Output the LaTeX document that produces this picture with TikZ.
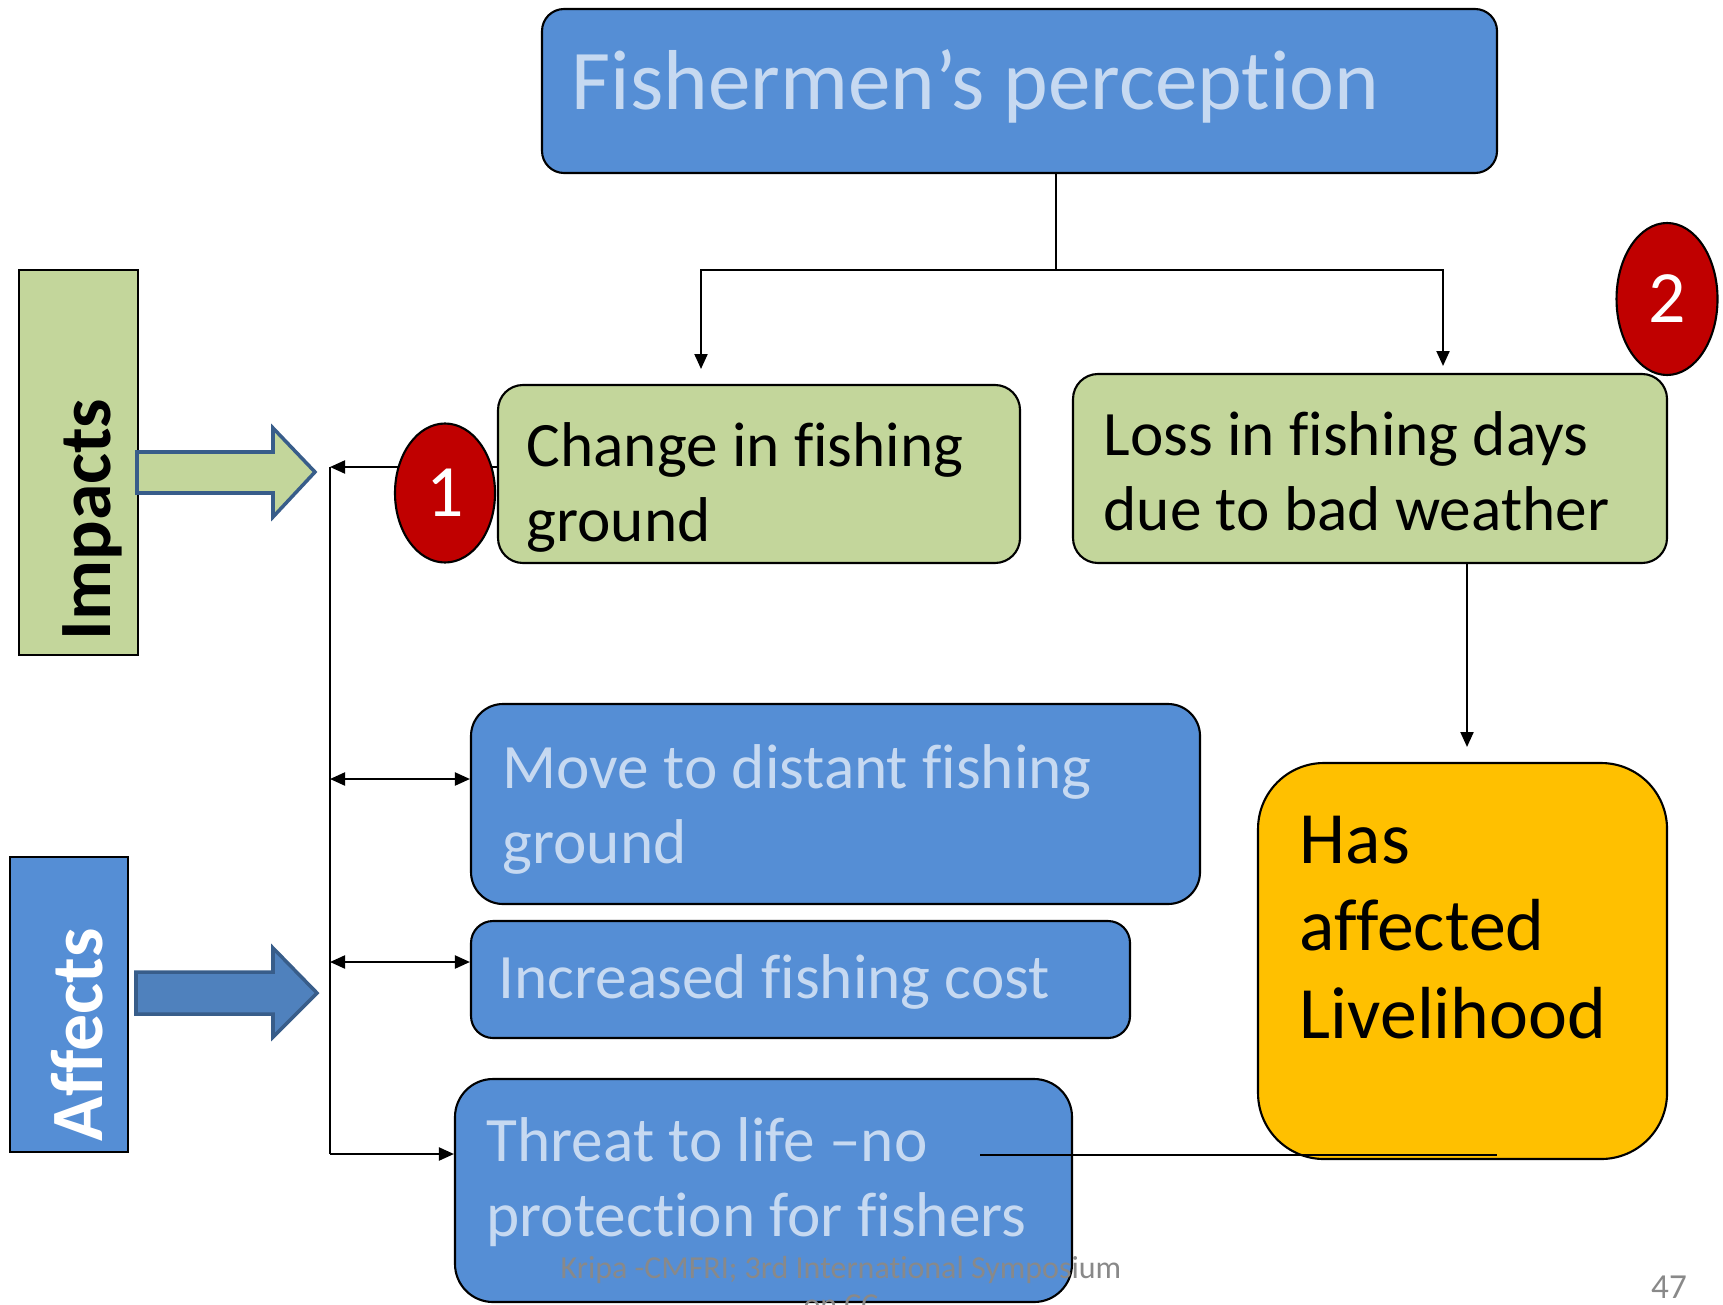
\documentclass[tikz,border=0pt]{standalone}
\usepackage{fontspec}
\setmainfont{Carlito}[Ligatures=NoCommon]
\usetikzlibrary{shapes.geometric, arrows.meta, positioning, calc}
\definecolor{boxblue}{RGB}{85,142,213}
\definecolor{paleblue}{RGB}{198,217,241}
\definecolor{boxgreen}{RGB}{195,214,155}
\definecolor{darkred}{RGB}{192,0,0}
\definecolor{gold}{RGB}{255,192,0}
\definecolor{steelblue}{RGB}{79,129,189}
\definecolor{edgeblue}{RGB}{56,93,138}
\definecolor{footgray}{RGB}{137,137,137}
\newcommand{\boxfont}{\fontsize{18}{21.3}\selectfont}

\begin{document}
\begin{tikzpicture}[x=0.1mm, y=-0.1mm,
  card/.style={draw, line width=0.6pt, rounded corners=#1, inner sep=0pt},
  card/.default=2.5mm,
  tab/.style={draw, line width=0.8pt, inner sep=0pt},
  txt/.style={anchor=base west, inner sep=0pt, align=left},
  badge/.style={ellipse, draw, line width=0.6pt, fill=darkred, text=white, inner sep=0pt, font=\fontsize{21}{25}\selectfont},
  link/.style={line width=0.6pt},
  tip/.style={-{Triangle[length=1.5mm, width=1.3mm]}},
  twotip/.style={{Triangle[length=1.5mm, width=1.3mm]}-{Triangle[length=1.5mm, width=1.3mm]}},
  fatarrow/.style={line width=1pt, draw=edgeblue, line join=miter}
]
  \useasboundingbox (0,0) rectangle (1723,1304);
  \clip (0,0) rectangle (1723,1304);

  \node[card=2.2mm, fill=boxblue, minimum width=95.5mm, minimum height=16.4mm] (title) at (1019.5,91) {};
  \node[card, fill=boxgreen, minimum width=52.2mm, minimum height=17.8mm] (chg) at (759,474) {};
  \node[card, fill=boxgreen, minimum width=59.4mm, minimum height=18.9mm] (loss) at (1370,468.5) {};
  \node[card=3.2mm, fill=boxblue, minimum width=72.9mm, minimum height=20mm] (move) at (835.5,804) {};
  \node[card=2.2mm, fill=boxblue, minimum width=65.9mm, minimum height=11.7mm] (cost) at (800.5,979.5) {};
  \node[card=3.8mm, fill=boxblue, minimum width=61.7mm, minimum height=22.3mm] (threat) at (763.5,1190.5) {};
  \node[card=6.6mm, fill=gold, minimum width=40.9mm, minimum height=39.6mm] (live) at (1462.5,961) {};
  \node[tab, fill=boxgreen, minimum width=11.9mm, minimum height=38.5mm] (impacts) at (78.5,462.5) {};
  \node[tab, fill=boxblue, minimum width=11.8mm, minimum height=29.5mm] (affects) at (69,1004.5) {};

  \draw[fatarrow, fill=boxgreen] (137,452) -- (273,452) -- (273,428) -- (315,472)
    -- (273,517) -- (273,493) -- (137,493) -- cycle;
  \draw[fatarrow, fill=steelblue] (136,972) -- (273,972) -- (273,948) -- (317,993)
    -- (273,1037) -- (273,1014) -- (136,1014) -- cycle;

  \coordinate (split) at (1056,270);
  \coordinate (chgin) at (701,369);
  \coordinate (lossin) at (1443,366);
  \coordinate (trunktop) at (330,467);
  \coordinate (trunkbot) at (330,1154);
  \coordinate (tomove) at (330,779);
  \coordinate (tocost) at (330,962);
  \coordinate (tolive) at (1467,747);
  \coordinate (tieA) at (980,1155);
  \coordinate (tieB) at (1497,1155);

  \draw[link] (split |- title.south) -- (split);
  \draw[link, tip] (split) -| (chgin);
  \draw[link, tip] (split) -| (lossin);
  \draw[link] (trunktop) -- (trunkbot);
  \draw[link, tip] (chg.west |- trunktop) -- (trunktop);
  \draw[link, twotip] (tomove) -- (tomove -| move.west);
  \draw[link, twotip] (tocost) -- (tocost -| cost.west);
  \draw[link, tip] (trunkbot) -- (trunkbot -| threat.west);
  \draw[link, tip] (tolive |- loss.south) -- (tolive);
  \draw[link] (tieA) -- (tieB);

  \node[badge, minimum width=10mm, minimum height=13.9mm] (one) at (445,493) {1};
  \node[badge, minimum width=10.1mm, minimum height=15.2mm] (two) at (1667,299) {2};

  \node[txt, text=paleblue, font=\fontsize{24.2}{29}\selectfont] (titletext) at (571,110) {Fishermen’s perception};
  \node[txt, font=\boxfont] (chgtext) at (526,541) {Change in fishing\\ground};
  \node[txt, font=\boxfont] (losstext) at (1103,530) {Loss in fishing days\\due to bad weather};
  \node[txt, text=paleblue, font=\boxfont] (movetext) at (502,863) {Move to distant fishing\\ground};
  \node[txt, text=paleblue, font=\boxfont] (costtext) at (498,998) {Increased fishing cost};
  \node[txt, text=paleblue, font=\boxfont] (threattext) at (486,1236) {Threat to life –no\\protection for fishers};
  \node[txt, font=\fontsize{21}{24.8}\selectfont] (livetext) at (1299,1038) {Has\\affected\\Livelihood};
  \node[rotate=90, anchor=base west, inner sep=0pt, font=\bfseries\fontsize{21}{25}\selectfont] (impactslbl) at (110,641) {Impacts};
  \node[rotate=90, anchor=base west, inner sep=0pt, text=white, font=\bfseries\fontsize{21}{25}\selectfont] (affectslbl) at (102,1142) {Affects};

  \node[anchor=base, inner sep=0pt, align=center, text=footgray, font=\fontsize{9.1}{10.5}\selectfont] (footer) at (841,1315) {Kripa -CMFRI; 3rd International Symposium\\on CC};
  \node[anchor=base, inner sep=0pt, text=footgray, font=\fontsize{10}{12}\selectfont] (pagenum) at (1669,1298) {47};
\end{tikzpicture}
\end{document}
